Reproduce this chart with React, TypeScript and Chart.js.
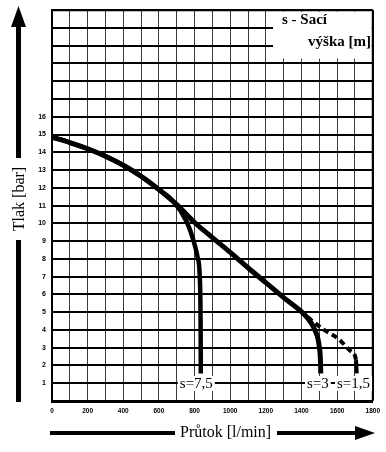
import React, { useEffect, useRef } from 'react';
import { Chart, registerables } from 'chart.js';
Chart.register(...registerables);

const flowMax = 1800;
const pressureMax = 22;
const flowTickLabels = [0, 200, 400, 600, 800, 1000, 1200, 1400, 1600, 1800];
const pressureTickLabels = [1, 2, 3, 4, 5, 6, 7, 8, 9, 10, 11, 12, 13, 14, 15, 16];

const s75Flow = [0, 100, 200, 300, 400, 500, 600, 680, 755, 792, 817, 830, 834, 835];
const s75Pressure = [14.85, 14.55, 14.2, 13.78, 13.27, 12.65, 11.9, 11.25, 10.1, 9.1, 8.1, 6.8, 4.2, 1.55];

const s3Flow = [0, 100, 200, 300, 400, 500, 600, 700, 800, 900, 1000, 1100, 1200, 1300, 1392, 1429, 1476, 1500, 1507, 1508];
const s3Pressure = [14.85, 14.55, 14.2, 13.78, 13.27, 12.65, 11.9, 11.05, 10.05, 9.2, 8.37, 7.5, 6.66, 5.82, 5.1, 4.73, 3.97, 3.04, 2.1, 1.55];

const s15Flow = [1392, 1457, 1532, 1607, 1682, 1706, 1710];
const s15Pressure = [5.1, 4.53, 3.97, 3.5, 2.76, 2.3, 1.55];

const curveLabels = ['s=7,5', 's=3', 's=1,5'];
const curveLabelFlow = [810, 1492, 1692];
const legendLines = ['s - Sací', 'výška [m]'];
const yTitle = 'Tlak [bar]';
const xTitle = 'Průtok [l/min]';

const toPts = (xs: number[], ys: number[]) => xs.map((x, i) => ({ x, y: ys[i] }));

const decorPlugin = {
  id: 'decor',
  beforeDatasetsDraw(chart: any) {
    const { ctx, chartArea } = chart;
    ctx.save();
    ctx.fillStyle = '#fff';
    ctx.fillRect(273, chartArea.top + 1.5, chartArea.right - 273 - 1, 47);
    ctx.strokeStyle = '#000';
    ctx.lineWidth = 2;
    ctx.beginPath();
    ctx.moveTo(chartArea.left, chartArea.top);
    ctx.lineTo(chartArea.right, chartArea.top);
    ctx.moveTo(chartArea.right, chartArea.top);
    ctx.lineTo(chartArea.right, chartArea.bottom);
    ctx.stroke();
    ctx.fillStyle = '#000';
    ctx.font = 'bold 15px "Liberation Serif"';
    ctx.textBaseline = 'middle';
    ctx.textAlign = 'left';
    ctx.fillText(legendLines[0], 282, 20);
    ctx.textAlign = 'right';
    ctx.fillText(legendLines[1], 371, 42);
    ctx.restore();
  },
  afterDatasetsDraw(chart: any) {
    const { ctx, scales } = chart;
    const xs = scales.x;
    ctx.save();
    ctx.font = '15px "Liberation Serif"';
    ctx.textBaseline = 'middle';
    ctx.textAlign = 'center';
    curveLabels.forEach((t, i) => {
      const cx = xs.getPixelForValue(curveLabelFlow[i]);
      const w = ctx.measureText(t).width;
      ctx.fillStyle = '#fff';
      ctx.fillRect(cx - w / 2 - 2, 376, w + 4, 15);
      ctx.fillStyle = '#000';
      ctx.fillText(t, cx, 384);
    });
    ctx.fillStyle = '#000';
    ctx.fillRect(16, 25, 5, 133);
    ctx.fillRect(16, 240, 5, 162);
    ctx.beginPath();
    ctx.moveTo(18.5, 6);
    ctx.lineTo(11, 27);
    ctx.lineTo(26, 27);
    ctx.closePath();
    ctx.fill();
    ctx.save();
    ctx.translate(20, 199);
    ctx.rotate(-Math.PI / 2);
    ctx.font = '16px "Liberation Serif"';
    ctx.textAlign = 'center';
    ctx.textBaseline = 'middle';
    ctx.fillText(yTitle, 0, 0);
    ctx.restore();
    ctx.fillRect(50, 431, 125, 4);
    ctx.fillRect(277, 431, 80, 4);
    ctx.beginPath();
    ctx.moveTo(375, 433);
    ctx.lineTo(355, 426);
    ctx.lineTo(355, 440);
    ctx.closePath();
    ctx.fill();
    ctx.font = '16px "Liberation Serif"';
    ctx.textAlign = 'left';
    ctx.textBaseline = 'middle';
    ctx.fillText(xTitle, 180, 433);
    ctx.restore();
  },
};

export default function App() {
  const ref = useRef<HTMLCanvasElement>(null);
  useEffect(() => {
    if (!ref.current) return;
    const chart = new Chart(ref.current, {
      type: 'line',
      data: {
        datasets: [
          {
            label: 's=7,5',
            data: toPts(s75Flow, s75Pressure),
            borderColor: '#000',
            borderWidth: 4.5,
            pointRadius: 0,
            cubicInterpolationMode: 'monotone',
            fill: false,
          },
          {
            label: 's=3',
            data: toPts(s3Flow, s3Pressure),
            borderColor: '#000',
            borderWidth: 5,
            pointRadius: 0,
            cubicInterpolationMode: 'monotone',
            fill: false,
          },
          {
            label: 's=1,5',
            data: toPts(s15Flow, s15Pressure),
            borderColor: '#000',
            borderWidth: 4,
            pointRadius: 0,
            cubicInterpolationMode: 'monotone',
            fill: false,
            segment: {
              borderDash: (c: any) => (c.p1DataIndex >= s15Flow.length - 1 ? [] : [6, 4]),
            },
          },
        ],
      },
      options: {
        animation: false,
        responsive: false,
        layout: { padding: { left: 0, right: 10, top: 7, bottom: 31 } },
        plugins: { legend: { display: false }, tooltip: { enabled: false } },
        scales: {
          x: {
            type: 'linear',
            min: 0,
            max: flowMax,
            ticks: {
              stepSize: 100,
              autoSkip: false,
              maxRotation: 0,
              padding: 6,
              color: '#000',
              font: { size: 6.5, weight: 'bold', family: 'Liberation Sans' },
              callback: (v: any) => (flowTickLabels.includes(Number(v)) ? String(v) : ''),
            },
            grid: {
              drawTicks: false,
              color: (c: any) => (c.tick && c.tick.value === flowMax ? '#000' : '#3a3a3a'),
              lineWidth: (c: any) => (c.tick && c.tick.value === flowMax ? 2 : 1),
            },
            border: { color: '#000', width: 3 },
            afterFit: (s: any) => {
              s.height = 20;
            },
          },
          y: {
            type: 'linear',
            min: 0,
            max: pressureMax,
            ticks: {
              stepSize: 1,
              autoSkip: false,
              padding: 6,
              color: '#000',
              font: { size: 7, weight: 'bold', family: 'Liberation Sans' },
              callback: (v: any) => (pressureTickLabels.includes(Number(v)) ? String(v) : ''),
            },
            grid: { drawTicks: false, color: '#000', lineWidth: 2 },
            border: { color: '#000', width: 2 },
            afterFit: (s: any) => {
              s.width = 52;
            },
          },
        },
      },
      plugins: [decorPlugin],
    } as any);
    return () => chart.destroy();
  }, []);
  return (
    <div style={{ position: 'fixed', left: 0, top: 0, width: 386, height: 452, background: '#fff' }}>
      <canvas ref={ref} width={386} height={452} style={{ width: 386, height: 452, display: 'block' }} />
    </div>
  );
}
